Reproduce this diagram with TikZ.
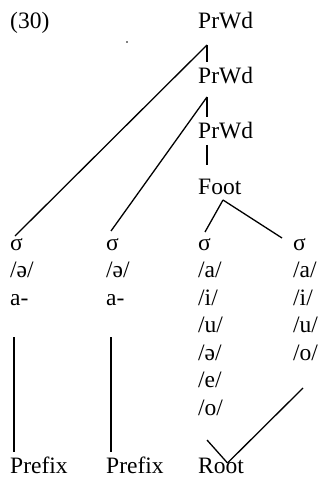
\documentclass[tikz,border=0pt]{standalone}
\usepackage{fontspec}
\setmainfont{Liberation Serif}
\begin{document}
\begin{tikzpicture}[x=1bp,y=-1bp,
  lab/.style={anchor=base west,inner sep=0pt,font=\fontsize{23.5bp}{28bp}\selectfont},
  ln/.style={line width=1.3bp}]
\useasboundingbox (0,0) rectangle (320,479);
% labels
\node[lab] (num) at (10,29) {(30)};
\node[lab] (w1) at (198,29) {PrWd};
\node[lab] (w2) at (198,83.5) {PrWd};
\node[lab] (w3) at (198,138.5) {PrWd};
\node[lab] (ft) at (198,194) {Foot};
\fill (127,42) circle (0.8);
% column 1
\node[lab] (s1) at (10,250) {σ};
\node[lab] (v1) at (10,277.5) {/ə/};
\node[lab] (m1) at (10,305) {a-};
% column 2
\node[lab] (s2) at (106,250) {σ};
\node[lab] (v2) at (106,277.5) {/ə/};
\node[lab] (m2) at (106,305) {a-};
% column 3
\node[lab] (s3) at (198,250) {σ};
\node[lab] (c3a) at (198,277.5) {/a/};
\node[lab] (c3b) at (198,305) {/i/};
\node[lab] (c3c) at (198,332.5) {/u/};
\node[lab] (c3d) at (198,360) {/ə/};
\node[lab] (c3e) at (198,387.5) {/e/};
\node[lab] (c3f) at (198,415) {/o/};
% column 4
\node[lab] (s4) at (293,250) {σ};
\node[lab] (c4a) at (293,277.5) {/a/};
\node[lab] (c4b) at (293,305) {/i/};
\node[lab] (c4c) at (293,332.5) {/u/};
\node[lab] (c4d) at (293,360) {/o/};
% bottom
\node[lab] (p1) at (10,473) {Prefix};
\node[lab] (p2) at (106,473) {Prefix};
\node[lab] (rt) at (198,473) {Root};
% coordinates
\coordinate (w1b) at (207,45);
\coordinate (w2t) at (207,62);
\coordinate (w2b) at (207,97);
\coordinate (w3t) at (207,117);
\coordinate (w3b) at (207,145);
\coordinate (ftt) at (207,165);
\coordinate (ftb) at (223,200);
\coordinate (s1t) at (15,236);
\coordinate (s2t) at (111,231);
\coordinate (s3t) at (205,232);
\coordinate (s4t) at (282,238);
\coordinate (m1b) at (14,337);
\coordinate (p1t) at (14,452);
\coordinate (m2b) at (111,337);
\coordinate (p2t) at (111,452);
\coordinate (c3fb) at (207,440);
\coordinate (rtt) at (227.5,463);
\coordinate (c4db) at (303,388);
% connectors
\draw[ln] (w1b) -- (w2t);
\draw[ln] (w1b) -- (s1t);
\draw[ln] (w2b) -- (w3t);
\draw[ln] (w2b) -- (s2t);
\draw[ln] (w3b) -- (ftt);
\draw[ln] (ftb) -- (s3t);
\draw[ln] (ftb) -- (s4t);
\draw[ln] (m1b) -- (p1t);
\draw[ln] (m2b) -- (p2t);
\draw[ln] (c3fb) -- (rtt);
\draw[ln] (c4db) -- (rtt);
\end{tikzpicture}
\end{document}
